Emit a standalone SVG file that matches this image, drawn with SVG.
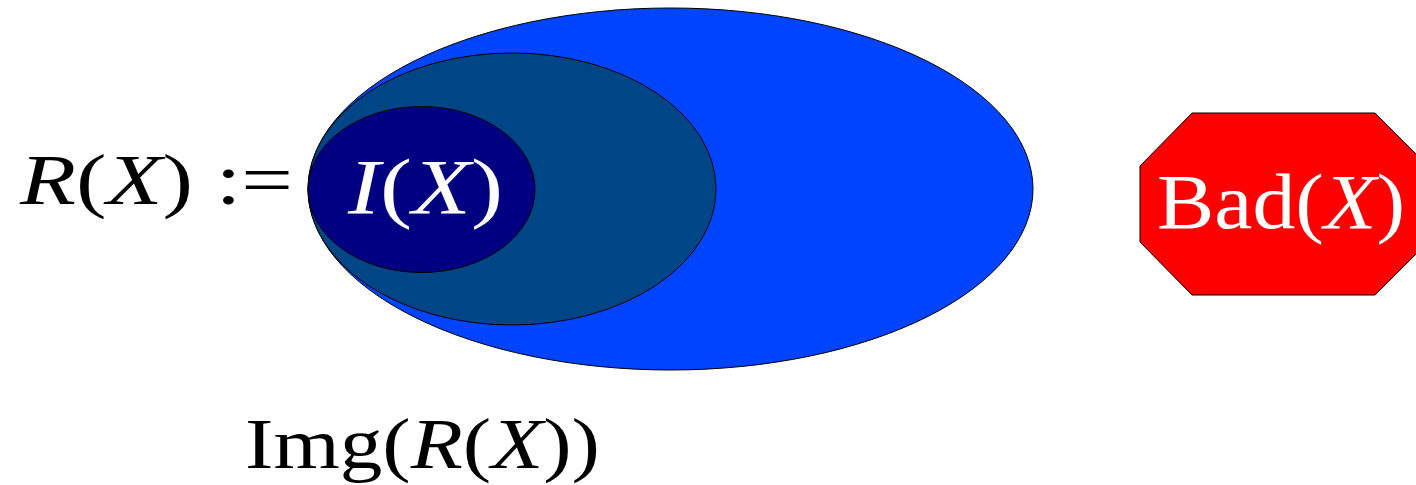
<svg xmlns="http://www.w3.org/2000/svg" width="1416" height="485" viewBox="0 0 1416 485">
<style>
.shape{stroke:#000;stroke-width:1}
.t{font-family:"Liberation Serif","DejaVu Serif",serif;font-size:72px}
.big{font-size:78px}
.i{font-style:italic}
</style>
<rect x="0" y="0" width="1416" height="485" fill="#fff"/>
<g id="label-R">
<text class="t" x="20" y="204" fill="#000" textLength="273" lengthAdjust="spacingAndGlyphs"><tspan class="i">R</tspan>(<tspan class="i">X</tspan>) :=</text>
</g>
<g id="img-set">
<ellipse class="shape" cx="670.5" cy="189" rx="362.5" ry="181" fill="#0044ff"/>
</g>
<g id="mid-set">
<ellipse class="shape" cx="512" cy="189" rx="204" ry="136" fill="#004586"/>
</g>
<g id="I-set">
<ellipse class="shape" cx="421.5" cy="189.5" rx="113.5" ry="83" fill="#000080"/>
<text class="t big" x="348" y="213" fill="#fff" textLength="155" lengthAdjust="spacingAndGlyphs"><tspan class="i">I</tspan>(<tspan class="i">X</tspan>)</text>
</g>
<g id="bad">
<polygon class="shape" points="1192,113 1375,113 1428,166 1428,242 1375,295 1192,295 1140,242 1140,166" fill="#ff0000"/>
<text class="t big" x="1157" y="228" fill="#fff" textLength="248" lengthAdjust="spacingAndGlyphs">Bad(<tspan class="i">X</tspan>)</text>
</g>
<g id="label-img">
<text class="t" x="245" y="468" fill="#000" textLength="355" lengthAdjust="spacingAndGlyphs">Img(<tspan class="i">R</tspan>(<tspan class="i">X</tspan>))</text>
</g>
<g id="connectors"></g>
</svg>
